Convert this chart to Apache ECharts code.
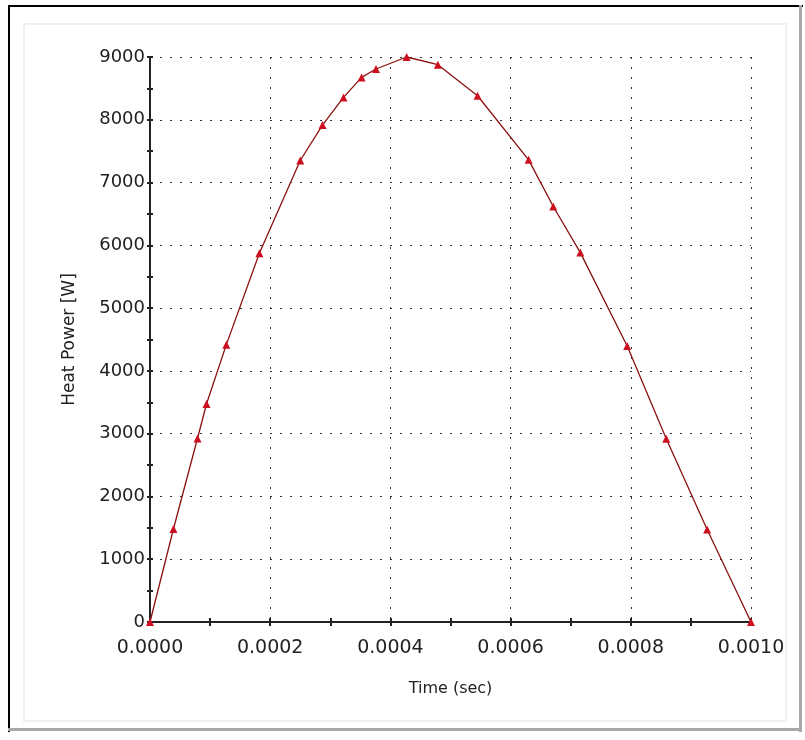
<!DOCTYPE html>
<html>
<head>
<meta charset="utf-8">
<script src="https://cdn.jsdelivr.net/npm/echarts@6/dist/echarts.min.js"></script>
<style>
html,body{margin:0;padding:0;background:#fff;}
#chart{width:805px;height:740px;}
</style>
</head>
<body>
<div id="chart"></div>
<script>
// Data
const timeSec = [0, 0.000039, 0.000079, 0.000094, 0.000127, 0.000182, 0.000250, 0.000287, 0.000322, 0.000352, 0.000376, 0.000427, 0.000479, 0.000545, 0.000630, 0.000671, 0.000716, 0.000794, 0.000859, 0.000927, 0.001];
const heatPowerW = [0, 1481, 2923, 3473, 4418, 5875, 7351, 7916, 8356, 8675, 8809, 9000, 8877, 8383, 7362, 6618, 5884, 4396, 2918, 1473, 0];
const xTickValues = [0, 0.0002, 0.0004, 0.0006, 0.0008, 0.001];
const yTickValues = [0, 1000, 2000, 3000, 4000, 5000, 6000, 7000, 8000, 9000];
const xTitle = 'Time (sec)';
const yTitle = 'Heat Power [W]';

const points = timeSec.map((t, i) => [t, heatPowerW[i]]);
const FONT = 'DejaVu Sans';
const dotted = { color: '#333', width: 1, type: [2, 8] };

const chart = echarts.init(document.getElementById('chart'), null, { renderer: 'canvas' });
const xBase = {
  type: 'value', min: xTickValues[0], max: xTickValues[xTickValues.length - 1],
  interval: xTickValues[1] - xTickValues[0]
};
const yBase = {
  type: 'value', min: yTickValues[0], max: yTickValues[yTickValues.length - 1],
  interval: yTickValues[1] - yTickValues[0]
};
chart.setOption({
  animation: false,
  backgroundColor: '#fff',
  graphic: [
    { type: 'rect', shape: { x: 24, y: 24, width: 762, height: 697 }, style: { fill: 'none', stroke: '#f0f0f0', lineWidth: 2 }, silent: true, z: -1 },
    { type: 'rect', shape: { x: 8, y: 5, width: 795, height: 2 }, style: { fill: '#000' }, silent: true },
    { type: 'rect', shape: { x: 8, y: 5, width: 2, height: 727 }, style: { fill: '#000' }, silent: true },
    { type: 'rect', shape: { x: 799, y: 5, width: 3, height: 727 }, style: { fill: '#a8a8a8' }, silent: true },
    { type: 'rect', shape: { x: 8, y: 728, width: 794, height: 3 }, style: { fill: '#a8a8a8' }, silent: true }
  ],
  grid: { left: 150, right: 54, top: 57, bottom: 118, containLabel: false },
  xAxis: [
    Object.assign({}, xBase, {
      position: 'bottom',
      name: xTitle, nameLocation: 'middle', nameGap: 59,
      nameTextStyle: { fontFamily: FONT, fontSize: 16, color: '#222' },
      axisLine: { show: true, onZero: false, lineStyle: { color: '#222', width: 2 } },
      axisTick: { show: true, inside: false, length: 4, lineStyle: { color: '#222', width: 2 } },
      minorTick: { show: true, splitNumber: 2, length: 4, lineStyle: { color: '#222', width: 2 } },
      axisLabel: { fontFamily: FONT, fontSize: 19, color: '#222', margin: 17, formatter: v => v.toFixed(4) },
      splitLine: { show: true, lineStyle: dotted }
    }),
    Object.assign({}, xBase, {
      position: 'bottom',
      axisLine: { show: false, onZero: false },
      axisTick: { show: true, inside: true, length: 4, lineStyle: { color: '#222', width: 2 } },
      minorTick: { show: true, splitNumber: 2, length: 4, lineStyle: { color: '#222', width: 2 } },
      axisLabel: { show: false },
      splitLine: { show: false }
    })
  ],
  yAxis: [
    Object.assign({}, yBase, {
      position: 'left',
      name: yTitle, nameLocation: 'middle', nameGap: 72, nameRotate: 90,
      nameTextStyle: { fontFamily: FONT, fontSize: 17, color: '#222' },
      axisLine: { show: true, onZero: false, lineStyle: { color: '#222', width: 2 } },
      axisTick: { show: true, inside: false, length: 3, lineStyle: { color: '#222', width: 2 } },
      minorTick: { show: true, splitNumber: 2, length: 3, lineStyle: { color: '#222', width: 2 } },
      axisLabel: { fontFamily: FONT, fontSize: 18, color: '#222', margin: 5, formatter: v => String(v) },
      splitLine: { show: true, lineStyle: dotted }
    }),
    Object.assign({}, yBase, {
      position: 'left',
      axisLine: { show: false, onZero: false },
      axisTick: { show: true, inside: true, length: 3, lineStyle: { color: '#222', width: 2 } },
      minorTick: { show: true, splitNumber: 2, length: 3, lineStyle: { color: '#222', width: 2 } },
      axisLabel: { show: false },
      splitLine: { show: false }
    })
  ],
  series: [{
    type: 'line',
    xAxisIndex: 0, yAxisIndex: 0,
    data: points,
    smooth: false,
    symbol: 'triangle', symbolSize: 8,
    lineStyle: { color: '#8b1010', width: 1.3 },
    itemStyle: { color: '#cc1020' },
    z: 5
  }]
});
</script>
</body>
</html>
